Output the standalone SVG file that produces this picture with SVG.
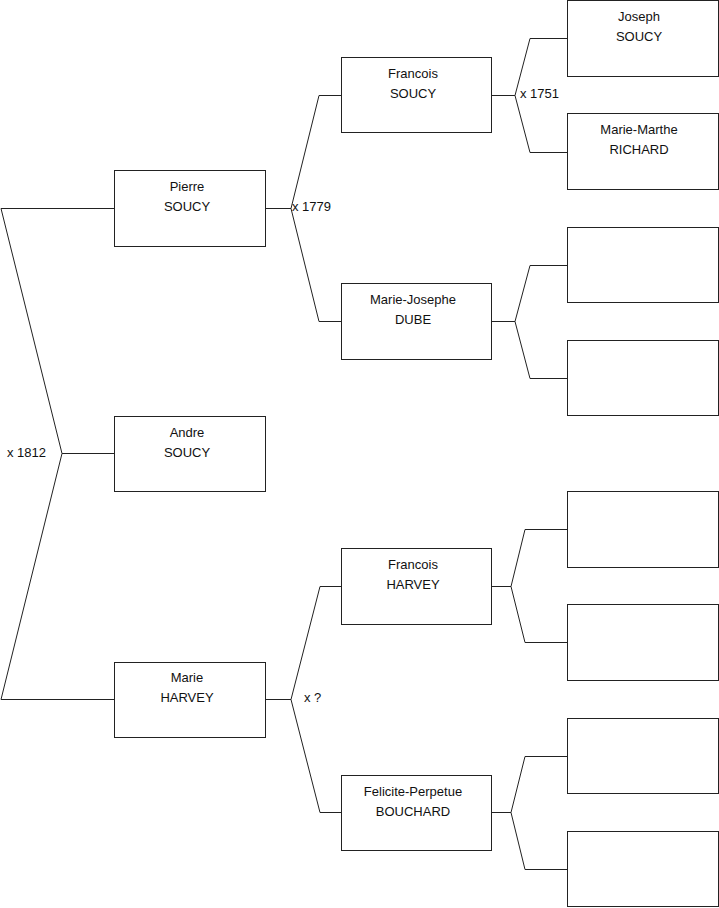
<svg xmlns="http://www.w3.org/2000/svg" width="719" height="908" viewBox="0 0 719 908">
<style>
.box{fill:#fff;stroke:#222;stroke-width:1}
.ln{fill:none;stroke:#222;stroke-width:1}
text{font-family:"Liberation Sans",Arial,sans-serif;font-size:13px;fill:#111}
.c{text-anchor:middle}
</style>
<rect x="0" y="0" width="719" height="908" fill="#fff"/>
<g id="connectors">
<polyline class="ln" points="114,208.5 1,208.5 62,453.5 1,699.5 114,699.5"/>
<line class="ln" x1="62" y1="453.5" x2="114" y2="453.5"/>
<polyline class="ln" points="341,95.5 319,95.5 291,208.5 319,321.5 341,321.5"/>
<line class="ln" x1="265" y1="208.5" x2="291" y2="208.5"/>
<polyline class="ln" points="341,586.5 320,586.5 291,699.5 320,812.5 341,812.5"/>
<line class="ln" x1="265" y1="699.5" x2="291" y2="699.5"/>
<polyline class="ln" points="567,38.5 530,38.5 515,95.5 530,152.5 567,152.5"/>
<line class="ln" x1="492" y1="95.5" x2="515" y2="95.5"/>
<polyline class="ln" points="567,265.5 530,265.5 515,321.5 530,378.5 567,378.5"/>
<line class="ln" x1="492" y1="321.5" x2="515" y2="321.5"/>
<polyline class="ln" points="567,529.5 525,529.5 511,586.5 525,642.5 567,642.5"/>
<line class="ln" x1="492" y1="586.5" x2="511" y2="586.5"/>
<polyline class="ln" points="567,756.5 525,756.5 511,812.5 525,869.5 567,869.5"/>
<line class="ln" x1="492" y1="812.5" x2="511" y2="812.5"/>
<text x="7" y="457">x 1812</text>
<text x="292" y="211">x 1779</text>
<text x="520" y="98">x 1751</text>
<text x="304" y="702">x ?</text>
</g>
<g id="pierre"><rect class="box" x="114.5" y="170.5" width="151" height="76"/><text class="c" x="187" y="191">Pierre</text><text class="c" x="187" y="211">SOUCY</text></g>
<g id="andre"><rect class="box" x="114.5" y="416.5" width="151" height="75"/><text class="c" x="187" y="437">Andre</text><text class="c" x="187" y="457">SOUCY</text></g>
<g id="marie"><rect class="box" x="114.5" y="662.5" width="151" height="75"/><text class="c" x="187" y="682">Marie</text><text class="c" x="187" y="702">HARVEY</text></g>
<g id="francois-soucy"><rect class="box" x="341.5" y="57.5" width="150" height="75"/><text class="c" x="413" y="78">Francois</text><text class="c" x="413" y="98">SOUCY</text></g>
<g id="marie-josephe"><rect class="box" x="341.5" y="283.5" width="150" height="76"/><text class="c" x="413" y="304">Marie-Josephe</text><text class="c" x="413" y="324">DUBE</text></g>
<g id="francois-harvey"><rect class="box" x="341.5" y="548.5" width="150" height="76"/><text class="c" x="413" y="569">Francois</text><text class="c" x="413" y="589">HARVEY</text></g>
<g id="felicite"><rect class="box" x="341.5" y="775.5" width="150" height="75"/><text class="c" x="413" y="796">Felicite-Perpetue</text><text class="c" x="413" y="816">BOUCHARD</text></g>
<g id="joseph"><rect class="box" x="567.5" y="0.5" width="151" height="76"/><text class="c" x="639" y="21">Joseph</text><text class="c" x="639" y="41">SOUCY</text></g>
<g id="marie-marthe"><rect class="box" x="567.5" y="113.5" width="151" height="76"/><text class="c" x="639" y="134">Marie-Marthe</text><text class="c" x="639" y="154">RICHARD</text></g>
<g id="empty3"><rect class="box" x="567.5" y="227.5" width="151" height="75"/></g>
<g id="empty4"><rect class="box" x="567.5" y="340.5" width="151" height="75"/></g>
<g id="empty5"><rect class="box" x="567.5" y="491.5" width="151" height="76"/></g>
<g id="empty6"><rect class="box" x="567.5" y="604.5" width="151" height="76"/></g>
<g id="empty7"><rect class="box" x="567.5" y="718.5" width="151" height="75"/></g>
<g id="empty8"><rect class="box" x="567.5" y="831.5" width="151" height="75"/></g>
</svg>
